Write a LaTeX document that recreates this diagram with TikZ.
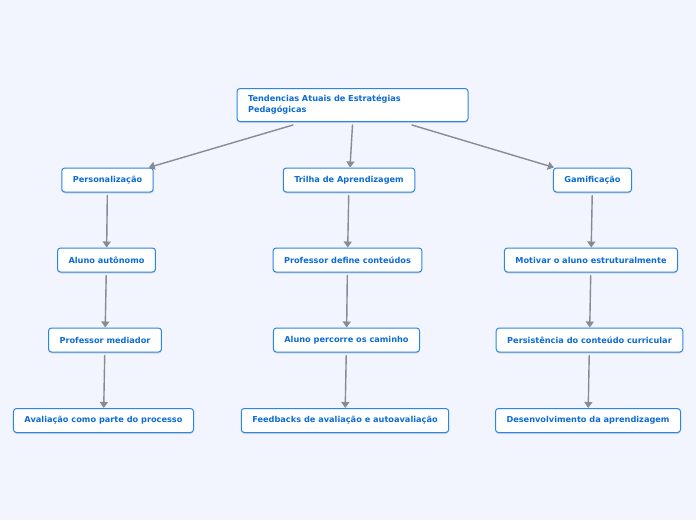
\documentclass[tikz,border=0pt]{standalone}
\usepackage{fontspec}
\setmainfont{DejaVu Sans}
\usetikzlibrary{arrows.meta,calc,shadows}
\definecolor{mapBack}{HTML}{F2F5FD}
\definecolor{mapBlue}{HTML}{2A86E4}
\definecolor{mapText}{HTML}{0D6CD3}
\definecolor{mapGray}{HTML}{878B92}

\begin{document}
\begin{tikzpicture}[x=1pt,y=-1pt,>=Latex,line cap=round,line join=round]
\path[fill=mapBack] (0,0) rectangle (696,520);
\tikzset{topic/.style={draw=mapBlue,fill=white,line width=1pt,rounded corners=3pt,text=mapText,font=\fontsize{8.2}{10.8}\selectfont\bfseries,inner xsep=11pt,minimum height=24pt,drop shadow={shadow xshift=0pt,shadow yshift=-1.5pt,opacity=0.25}},link/.style={draw=mapGray,line width=1.4pt,-{Triangle[width=8pt,length=6pt]}}}
\node[topic,text width=209pt,align=left,inner xsep=11pt,minimum height=33pt] (root) at (352.5,105) {Tendencias Atuais de Estratégias\\Pedagógicas};
% primeira linha
\node[topic] (pers) at (107.5,180) {Personalização}; \node[topic] (trilha) at (349,180) {Trilha de Aprendizagem}; \node[topic] (gami) at (592.5,180) {Gamificação};
% segunda linha
\node[topic] (autonomo) at (106.5,260) {Aluno autônomo}; \node[topic] (define) at (347.5,260) {Professor define conteúdos}; \node[topic] (motivar) at (591,260) {Motivar o aluno estruturalmente};
% terceira linha
\node[topic] (mediador) at (105,340) {Professor mediador}; \node[topic] (percorre) at (346.5,340) {Aluno percorre os caminho}; \node[topic] (persist) at (589.5,340) {Persistência do conteúdo curricular};
% quarta linha
\node[topic] (avaliacao) at (103.5,420.5) {Avaliação como parte do processo}; \node[topic] (feedback) at (345,420.5) {Feedbacks de avaliação e autoavaliação}; \node[topic] (desenv) at (588,420.5) {Desenvolvimento da aprendizagem};
\draw[link] ([xshift=-59.5pt,yshift=-3pt]root.south) -- ([xshift=-5pt]pers.north east);
\draw[link] ([yshift=-3pt]root.south) -- ([xshift=1pt]trilha.north);
\draw[link] ([xshift=59.5pt,yshift=-3pt]root.south) -- ([xshift=1pt]gami.north west);
\draw[link,shorten <=3pt] (pers) -- (autonomo); \draw[link,shorten <=3pt] (autonomo) -- (mediador); \draw[link,shorten <=3pt] (mediador) -- (avaliacao);
\draw[link,shorten <=3pt] (trilha) -- (define); \draw[link,shorten <=3pt] (define) -- (percorre); \draw[link,shorten <=3pt] (percorre) -- (feedback);
\draw[link,shorten <=3pt] (gami) -- (motivar); \draw[link,shorten <=3pt] (motivar) -- (persist); \draw[link,shorten <=3pt] (persist) -- (desenv);
\end{tikzpicture}
\end{document}
